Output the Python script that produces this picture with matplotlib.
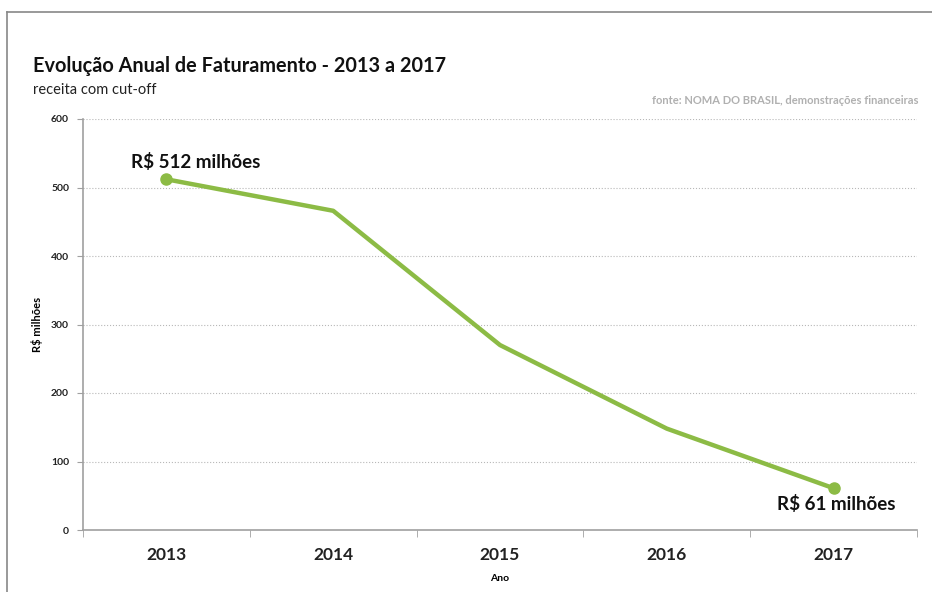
import matplotlib
matplotlib.use('Agg')
import matplotlib.pyplot as plt
from matplotlib.lines import Line2D
import numpy as np

# dados
anos = ['2013', '2014', '2015', '2016', '2017']
faturamento = [512, 466, 270, 148, 61]
yticks = [0, 100, 200, 300, 400, 500, 600]

plt.rcParams['font.family'] = ['Lato', 'DejaVu Sans']
verde = '#8cbb45'

fig = plt.figure(figsize=(9.32, 5.92), dpi=100)
ax = fig.add_axes([83/932, 62/592, 834/932, 411/592])

x = np.arange(len(anos))
ax.plot(x, faturamento, color=verde, lw=3.2, solid_capstyle='round', zorder=3)
ax.plot([x[0], x[-1]], [faturamento[0], faturamento[-1]], 'o', color=verde, ms=8, zorder=4)

ax.set_xlim(-0.5, len(anos) - 0.5)
ax.set_ylim(0, 600)
ax.set_yticks(yticks)
ax.set_yticklabels([str(v) for v in yticks], fontsize=7.5, fontweight='bold', color='#222222')
ax.set_xticks(x)
ax.set_xticklabels(anos, fontsize=12.5, fontweight='bold', color='#222222')
ax.set_xticks(np.arange(-0.5, len(anos)), minor=True)
ax.tick_params(axis='x', which='major', length=0, pad=12)
ax.tick_params(axis='x', which='minor', length=5, color='#a0a0a0', direction='out')
ax.tick_params(axis='y', length=4, color='#a0a0a0', pad=6)

ax.grid(axis='y', linestyle=':', color='#b8b8b8', lw=0.8)
ax.set_axisbelow(True)
for s in ['top', 'right']:
    ax.spines[s].set_visible(False)
ax.spines['left'].set_color('#a0a0a0')
ax.spines['bottom'].set_color('#a0a0a0')
ax.spines['left'].set_linewidth(1.2)
ax.spines['bottom'].set_linewidth(1.2)

ax.set_xlabel('Ano', fontsize=7.5, fontweight='bold', labelpad=8)
ax.set_ylabel('R$ milhões', fontsize=8, fontweight='bold', labelpad=6)

ax.annotate('R$ 512 milhões', (x[0], faturamento[0]), xytext=(21, 6), textcoords='offset points',
            ha='center', va='bottom', fontsize=13.5, fontweight='bold', color='#111111')
ax.annotate('R$ 61 milhões', (x[-1], faturamento[-1]), xytext=(2, -5), textcoords='offset points',
            ha='center', va='top', fontsize=13.5, fontweight='bold', color='#111111')

fig.text(33/932, 1 - 66/592, 'Evolução Anual de Faturamento - 2013 a 2017', fontsize=14.3, fontweight='bold',
         ha='left', va='center', color='#111111')
fig.text(33/932, 1 - 90/592, 'receita com cut-off', fontsize=10.5, ha='left', va='center', color='#222222')
fig.text(918/932, 1 - 101/592, 'fonte: NOMA DO BRASIL, demonstrações financeiras', fontsize=8,
         fontweight='bold', ha='right', va='center', color='#b0b0b0')

# moldura
fig.add_artist(Line2D([7/932, 1], [1 - 12/592, 1 - 12/592], color='#888888', lw=1.2))
fig.add_artist(Line2D([7/932, 7/932], [0, 1 - 12/592], color='#888888', lw=1.2))

fig.savefig('out.png', dpi=100)
